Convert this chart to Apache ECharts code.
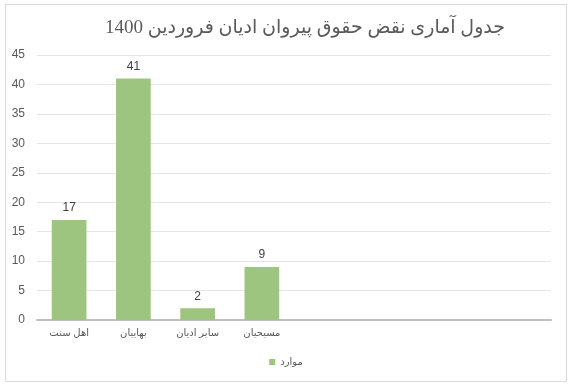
<!DOCTYPE html>
<html>
<head>
<meta charset="utf-8">
<script src="https://cdn.jsdelivr.net/npm/echarts@6/dist/echarts.min.js"></script>
<style>
html,body{margin:0;padding:0;background:#fff;}
#chart{width:572px;height:388px;}
</style>
</head>
<body>
<div id="chart"></div>
<script>
const titleText = 'جدول آماری نقض حقوق پیروان ادیان فروردین 1400';
const categories = ['اهل سنت', 'بهاییان', 'سایر ادیان', 'مسیحیان', '', '', '', ''];
const seriesName = 'موارد';
const values = [17, 41, 2, 9];
const yTicks = [0, 5, 10, 15, 20, 25, 30, 35, 40, 45];

const chart = echarts.init(document.getElementById('chart'), null, {renderer: 'canvas'});
const fontFam = '"Liberation Serif", "DejaVu Sans", serif';
const sansFam = '"Liberation Sans", "DejaVu Sans", sans-serif';
chart.setOption({
  backgroundColor: '#ffffff',
  animation: false,
  graphic: [{
    type: 'rect',
    shape: {x: 5.5, y: 4.5, width: 561, height: 377},
    style: {fill: 'none', stroke: '#d9d9d9', lineWidth: 1},
    silent: true
  }],
  title: {
    text: titleText,
    left: 300,
    top: 14,
    textAlign: 'center',
    textStyle: {fontFamily: fontFam, fontSize: 19, fontWeight: 'normal', color: '#595959'}
  },
  legend: {
    data: [seriesName],
    left: 'center',
    top: 352,
    icon: 'rect',
    itemWidth: 6,
    itemHeight: 6,
    itemGap: 4,
    textStyle: {fontFamily: sansFam, fontSize: 10, color: '#595959'}
  },
  grid: {left: 37, right: 21, top: 55, bottom: 68, containLabel: false},
  xAxis: {
    type: 'category',
    data: categories,
    axisTick: {show: false},
    axisLine: {lineStyle: {color: '#bfbfbf', width: 2}},
    axisLabel: {margin: 8, fontFamily: sansFam, fontSize: 10, color: '#595959', interval: 0}
  },
  yAxis: {
    type: 'value',
    min: yTicks[0],
    max: yTicks[yTicks.length - 1],
    interval: 5,
    axisLine: {show: false},
    axisTick: {show: false},
    splitLine: {lineStyle: {color: '#e6e6e6', width: 1}},
    axisLabel: {margin: 12, fontFamily: sansFam, fontSize: 12, color: '#595959'}
  },
  series: [{
    name: seriesName,
    type: 'bar',
    data: values,
    barWidth: '54%',
    itemStyle: {color: '#9dc57f'},
    label: {show: true, position: 'top', distance: 6, fontFamily: sansFam, fontSize: 12, color: '#404040'}
  }]
});
</script>
</body>
</html>
